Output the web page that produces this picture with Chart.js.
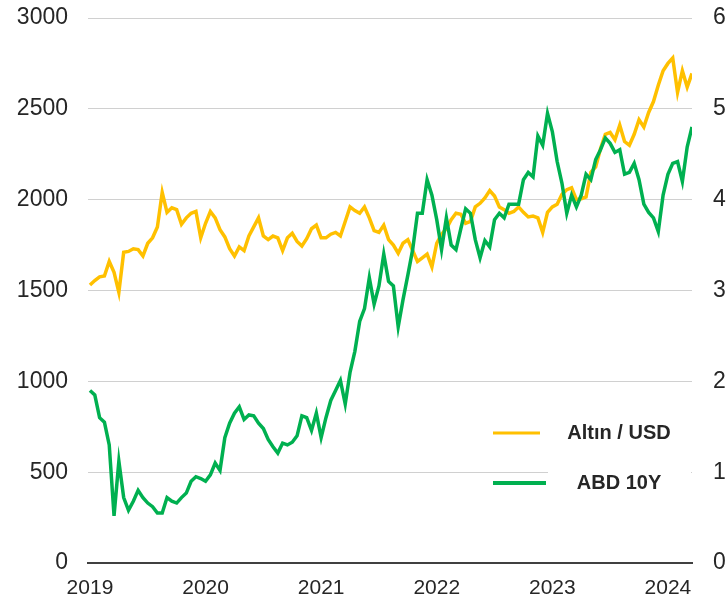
<!DOCTYPE html>
<html>
<head>
<meta charset="utf-8">
<script src="https://cdn.jsdelivr.net/npm/chart.js@4"></script>
<style>
  html, body { margin: 0; padding: 0; background: #fff; }
  #wrap { width: 728px; height: 604px; }
</style>
</head>
<body>
<div id="wrap"><canvas id="altinChart" width="728" height="604"></canvas></div>
<script>
// seri: yarim ayda bir okunan degerler (2019 basindan itibaren)
const startYear = 2019;
const stepsPerYear = 24;

const yearTicks = [2019, 2020, 2021, 2022, 2023, 2024];
const leftTicks = [0, 500, 1000, 1500, 2000, 2500, 3000];
const rightTicks = [0, 1, 2, 3, 4, 5, 6];

const altinUsd = [
  1530, 1555, 1575, 1580, 1660, 1600, 1490, 1710, 1715, 1730,
  1725, 1690, 1760, 1790, 1850, 2040, 1930, 1955, 1945, 1865,
  1900, 1925, 1935, 1790, 1870, 1935, 1900, 1835, 1795, 1730,
  1690, 1740, 1720, 1800, 1850, 1900, 1800, 1780, 1800, 1790,
  1720, 1790, 1815, 1770, 1745, 1785, 1840, 1860, 1790, 1790,
  1810, 1820, 1800, 1880, 1960, 1940, 1925, 1960, 1900, 1830,
  1820, 1860, 1780, 1750, 1705, 1760, 1780, 1720, 1660, 1680,
  1700, 1630, 1760, 1810, 1840, 1890, 1925, 1920, 1870, 1880,
  1960, 1980, 2010, 2050, 2020, 1960, 1945, 1925, 1935, 1960,
  1930, 1905, 1910, 1900, 1820, 1930, 1960, 1975, 2030, 2055,
  2065, 2000, 2005, 2015, 2150, 2180, 2280, 2360, 2370, 2330,
  2410, 2320, 2300, 2360, 2440, 2400, 2480, 2540, 2630, 2710,
  2750, 2780, 2590, 2710, 2620, 2695
];

const abd10y = [
  1.90, 1.85, 1.60, 1.55, 1.30, 0.52, 1.12, 0.72, 0.58, 0.68,
  0.80, 0.72, 0.66, 0.62, 0.55, 0.55, 0.72, 0.68, 0.66, 0.72,
  0.77, 0.90, 0.95, 0.93, 0.90, 0.97, 1.10, 1.02, 1.38, 1.54,
  1.65, 1.72, 1.58, 1.63, 1.62, 1.54, 1.48, 1.36, 1.28, 1.21,
  1.32, 1.30, 1.33, 1.40, 1.62, 1.60, 1.46, 1.65, 1.38, 1.60,
  1.79, 1.90, 2.01, 1.75, 2.10, 2.33, 2.66, 2.80, 3.14, 2.85,
  3.05, 3.40, 3.10, 3.05, 2.60, 2.90, 3.17, 3.45, 3.85, 3.85,
  4.22, 4.05, 3.78, 3.45, 3.80, 3.50, 3.45, 3.68, 3.90, 3.85,
  3.56, 3.36, 3.55, 3.48, 3.78, 3.85, 3.80, 3.95, 3.95, 3.95,
  4.22, 4.30, 4.25, 4.70, 4.60, 4.95, 4.75, 4.42, 4.18, 3.85,
  4.05, 3.92, 4.05, 4.28, 4.22, 4.44, 4.55, 4.68, 4.62, 4.52,
  4.55, 4.28, 4.30, 4.40, 4.22, 3.95, 3.86, 3.80, 3.65, 4.05,
  4.28, 4.40, 4.42, 4.20, 4.58, 4.80
];

const dates = altinUsd.map((v, i) => startYear + i / stepsPerYear);

const textColor = '#262626';
const fontFamily = "'Liberation Sans', Arial, sans-serif";

// lejant: grafigin sag alt kismina, beyaz zemin uzerine
const icLejant = {
  id: 'icLejant',
  afterDatasetsDraw(chart) {
    const { ctx, chartArea } = chart;
    const ds = chart.data.datasets;
    const right = chartArea.right;
    ctx.save();
    ctx.fillStyle = '#fff';
    ctx.fillRect(right - 144, chartArea.bottom - 150, 143, 88);

    const rows = [
      { ds: ds[0], y: chartArea.bottom - 130, x1: right - 199, x2: right - 152, w: 3 },
      { ds: ds[1], y: chartArea.bottom - 80, x1: right - 199, x2: right - 146, w: 4 }
    ];
    rows.forEach(r => {
      ctx.strokeStyle = r.ds.borderColor;
      ctx.lineWidth = r.w;
      ctx.beginPath();
      ctx.moveTo(r.x1, r.y);
      ctx.lineTo(r.x2, r.y);
      ctx.stroke();
      ctx.fillStyle = textColor;
      ctx.font = 'bold 20px ' + fontFamily;
      ctx.textAlign = 'center';
      ctx.textBaseline = 'middle';
      ctx.fillText(r.ds.label, right - 73, r.y);
    });
    ctx.restore();
  }
};

const ctx = document.getElementById('altinChart');

new Chart(ctx, {
  type: 'line',
  data: {
    datasets: [{
      label: 'Altın / USD',
      data: dates.map((d, i) => ({ x: d, y: altinUsd[i] })),
      borderColor: '#FFC000',
      borderWidth: 3.5,
      pointRadius: 0,
      tension: 0,
      yAxisID: 'y',
      order: 2
    }, {
      label: 'ABD 10Y',
      data: dates.map((d, i) => ({ x: d, y: abd10y[i] })),
      borderColor: '#00B050',
      borderWidth: 3.5,
      pointRadius: 0,
      tension: 0,
      yAxisID: 'y1',
      order: 1
    }]
  },
  options: {
    responsive: false,
    animation: false,
    layout: { padding: { top: 18, right: 0, bottom: 0, left: 0 } },
    plugins: {
      legend: { display: false },
      tooltip: { enabled: false }
    },
    scales: {
      x: {
        type: 'linear',
        min: 2018.983,
        max: dates[dates.length - 1],
        afterBuildTicks: axis => { axis.ticks = yearTicks.map(v => ({ value: v })); },
        afterFit: axis => { axis.height = 41; },
        grid: { display: false, drawTicks: false },
        border: { display: true, color: '#404040', width: 2 },
        ticks: {
          autoSkip: false,
          maxRotation: 0,
          padding: 13,
          color: textColor,
          font: { family: fontFamily, size: 21 },
          callback: v => String(v)
        }
      },
      y: {
        position: 'left',
        min: 0,
        max: 3000,
        afterBuildTicks: axis => { axis.ticks = leftTicks.map(v => ({ value: v })); },
        afterFit: axis => { axis.width = 88; },
        grid: { color: '#d0d0d0', lineWidth: 1, drawTicks: true, tickLength: 17, tickColor: 'rgba(0,0,0,0)' },
        border: { display: false },
        ticks: {
          padding: 3,
          color: textColor,
          font: { family: fontFamily, size: 23 },
          callback: v => String(v)
        }
      },
      y1: {
        position: 'right',
        min: 0,
        max: 6,
        afterBuildTicks: axis => { axis.ticks = rightTicks.map(v => ({ value: v })); },
        afterFit: axis => { axis.width = 36; },
        grid: { display: false, drawTicks: true, tickLength: 18 },
        border: { display: false },
        ticks: {
          padding: 3,
          color: textColor,
          font: { family: fontFamily, size: 23 },
          callback: v => String(v)
        }
      }
    }
  },
  plugins: [icLejant]
});
</script>
</body>
</html>
